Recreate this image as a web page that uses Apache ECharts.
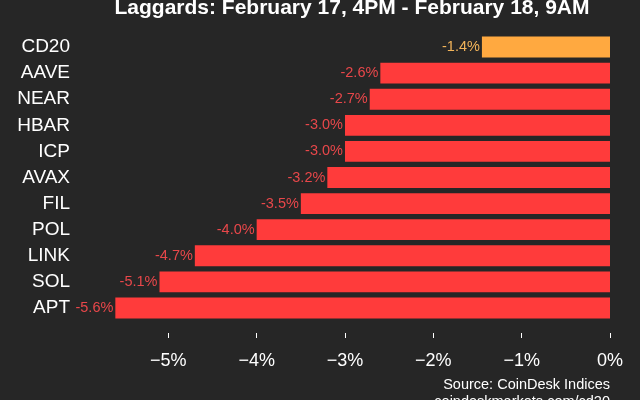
<!DOCTYPE html>
<html><head><meta charset="utf-8">
<script src="https://cdn.jsdelivr.net/npm/echarts@6/dist/echarts.min.js"></script>
<style>html,body{margin:0;padding:0;background:#262626;}#c{width:640px;height:400px;}</style>
</head><body><div id="c"></div>
<script>
const categories = ['CD20','AAVE','NEAR','HBAR','ICP','AVAX','FIL','POL','LINK','SOL','APT'];
const values = [-1.45,-2.6,-2.72,-3.0,-3.0,-3.2,-3.5,-4.0,-4.7,-5.1,-5.6];
const tickValues = [-5,-4,-3,-2,-1,0];
const titleText = 'Laggards: February 17, 4PM - February 18, 9AM';
const sourceLines = ['Source: CoinDesk Indices','coindeskmarkets.com/cd20'];

const FONT = '"Liberation Sans", Arial, sans-serif';
const chart = echarts.init(document.getElementById('c'), null, {renderer:'canvas'});
chart.setOption({
  backgroundColor:'#262626',
  animation:false,
  title:{text:titleText,left:347,textAlign:'center',top:-7,
    textStyle:{color:'#ffffff',fontSize:21,fontWeight:'bold',fontFamily:FONT}},
  graphic:[
    {type:'text',right:30,top:377,style:{text:sourceLines[0],fill:'#ffffff',font:'14.5px '+FONT,textAlign:'right'}},
    {type:'text',right:30,top:394,style:{text:sourceLines[1],fill:'#ffffff',font:'14.5px '+FONT,textAlign:'right'}}
  ],
  grid:{left:80,right:30,top:34,bottom:79,containLabel:false},
  xAxis:{type:'value',min:-6,max:0,offset:12,
    axisLine:{show:false},splitLine:{show:false},
    axisTick:{show:true,length:5,customValues:tickValues,lineStyle:{color:'#ffffff',width:1}},
    axisLabel:{customValues:tickValues,color:'#ffffff',fontSize:18,fontFamily:FONT,margin:19,
      formatter:v=> v===0?'0%':'\u2212'+Math.abs(v)+'%'}},
  yAxis:{type:'category',data:categories,inverse:true,
    axisLine:{show:false},axisTick:{show:false},
    axisLabel:{color:'#ffffff',fontSize:19,fontFamily:FONT,margin:10}},
  series:[{type:'bar',data:values.map((v,i)=>({value:v,
      itemStyle:{color:i===0?'#ffa940':'#ff3b3b'},
      label:{color:i===0?'#f2b45a':'#e8474a'}})),
    barCategoryGap:'20%',
    label:{show:true,position:'left',distance:2,fontSize:14.5,fontFamily:FONT,
      formatter:p=>p.value.toFixed(1)+'%'}}]
});
</script></body></html>
